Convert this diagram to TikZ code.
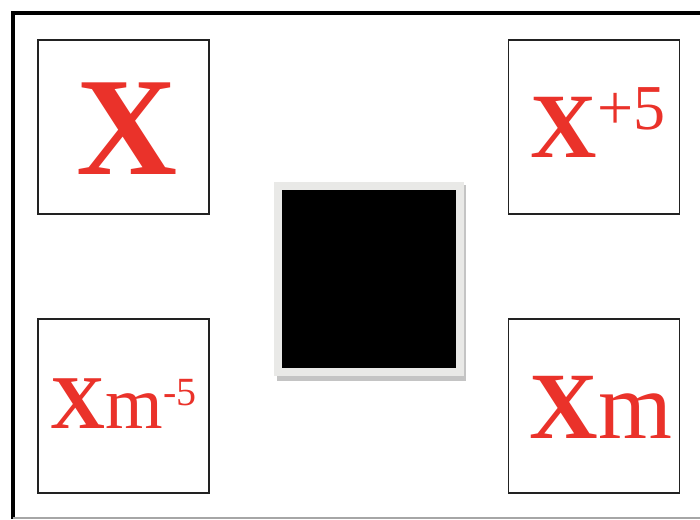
\documentclass[tikz,border=0pt]{standalone}
\usepackage{fontspec}
\setmainfont{Liberation Serif}
\usetikzlibrary{calc}
\definecolor{xred}{RGB}{234,50,42}
\definecolor{panelgray}{RGB}{233,233,231}
\definecolor{shadowgray}{RGB}{196,196,196}
\definecolor{boxline}{RGB}{34,34,34}
\begin{document}
\begin{tikzpicture}[x=1pt,y=1pt,
  cardbox/.style={draw=boxline,line width=1.3pt,fill=white,minimum width=171pt,minimum height=174pt,inner sep=0pt,outer sep=0pt},
  redlabel/.style={text=xred,inner sep=0pt,outer sep=0pt,anchor=base}]
\useasboundingbox (0,0) rectangle (700,519);
\fill[white] (0,0) rectangle (700,519);
% outer frame
\draw[line width=4pt,black] (700,506) -- (13,506) -- (13,0);
\draw[line width=2pt,black!35] (13,1.5) -- (700,1.5);
% boxes
\node[cardbox] (tl) at (123.5,392) {};
\node[cardbox] (tr) at (594,392) {};
\node[cardbox] (bl) at (123.5,113) {};
\node[cardbox] (br) at (594,113) {};
% central square
\fill[shadowgray] (277,138) rectangle (466,334);
\node[fill=black,draw=panelgray,line width=8pt,minimum width=181.5pt,minimum height=185.5pt,inner sep=0pt,outer sep=0pt] (c) at (368.75,240) {};
% labels
\node[redlabel] (ltl) at (127,344) {\fontsize{140}{140}\selectfont\bfseries X};
\node[redlabel] (ltr) at (598,361) {\fontsize{92}{92}\selectfont\bfseries X\raisebox{28pt}{\fontsize{64}{64}\selectfont\mdseries +5}};
\node[redlabel] (lbr) at (601,81) {\fontsize{95}{95}\selectfont\textbf{X}m};
\node[redlabel] (lbl) at (123.5,91) {\fontsize{76}{76}\selectfont\textbf{X}{\fontsize{74}{74}\selectfont m}\raisebox{23pt}{\fontsize{40}{40}\selectfont -5}};
\end{tikzpicture}
\end{document}
